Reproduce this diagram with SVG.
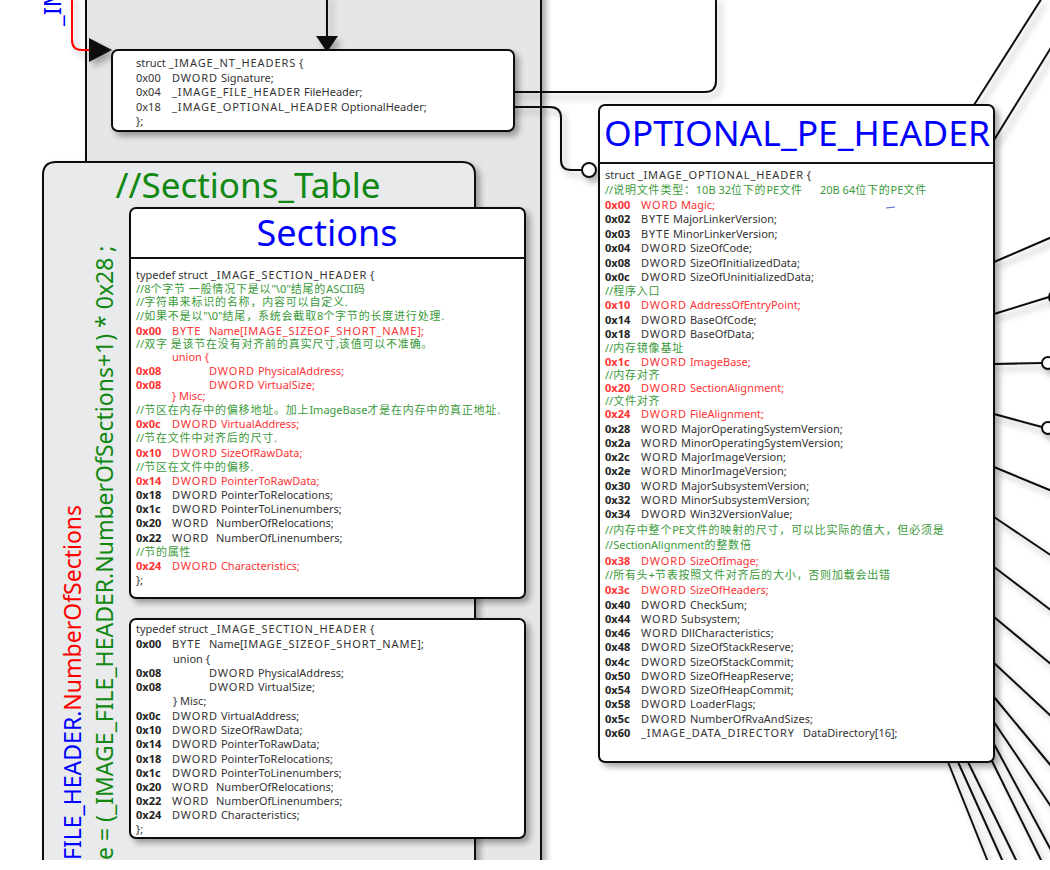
<svg xmlns="http://www.w3.org/2000/svg" width="1050" height="870" viewBox="0 0 1050 870">
<defs>
<style>
.t{font-family:"Noto Sans","Noto Sans CJK SC",sans-serif;font-size:11px;fill:#333}
.u{letter-spacing:0.9px}
.c{letter-spacing:0.8px}
.h{font-weight:bold;fill:#222}
.r{fill:#ff3333}
.rh{fill:#ff3333;font-weight:bold}
.g{fill:#3a9a3a}
.box{fill:#fff;stroke:#111;stroke-width:2}
.ln{fill:none;stroke:#111;stroke-width:2}
.ttl{font-family:"Noto Sans",sans-serif;fill:#0000ff}
</style>
<filter id="sh" x="-10%" y="-10%" width="130%" height="130%"><feDropShadow dx="4" dy="4" stdDeviation="3" flood-color="#000" flood-opacity="0.35"/></filter>
<filter id="lsh" x="-20%" y="-20%" width="140%" height="140%"><feDropShadow dx="4" dy="5" stdDeviation="3" flood-color="#000" flood-opacity="0.3"/></filter>
<clipPath id="clip"><rect x="0" y="0" width="1050" height="860"/></clipPath>
</defs>
<rect x="0" y="0" width="1050" height="870" fill="#fff"/>
<g clip-path="url(#clip)">
<g id="pe-container">
<rect x="86" y="-20" width="455" height="900" fill="#e4e6e7" stroke="#111" stroke-width="2" filter="url(#sh)"/>
</g>
<g id="dos-label">
<text class="ttl" transform="translate(61,26) rotate(-90)" font-size="24">_IM</text>
</g>
<g id="connectors" filter="url(#lsh)">
<path class="ln" d="M327,-5 V37"/>
<polygon points="316,36 338,36 327,52" fill="#111"/>
<path d="M72,-5 V40 Q72,50 82,50 H90" fill="none" stroke="#ff0000" stroke-width="2"/>
<polygon points="89,38 89,62 112,50" fill="#111"/>
<path class="ln" d="M378,92 H705 Q716,92 716,81 V-5"/>
<path class="ln" d="M430,107 H550 Q561,107 561,118 V160 Q561,170 571,170 H582"/>
<circle cx="589" cy="170" r="7" fill="#fff" stroke="#111" stroke-width="2"/>
<path class="ln" d="M974,105 L1042,-2"/>
<path class="ln" d="M994,140 L1052,46"/>
<path class="ln" d="M994,262 L1052,237"/>
<path class="ln" d="M994,314 L1049,297"/>
<circle cx="1055" cy="297" r="6" fill="#fff" stroke="#111" stroke-width="2"/>
<path class="ln" d="M994,364 L1042,363"/>
<circle cx="1048" cy="363" r="6" fill="#fff" stroke="#111" stroke-width="2"/>
<path class="ln" d="M994,414 L1042,427"/>
<circle cx="1048" cy="428" r="6" fill="#fff" stroke="#111" stroke-width="2"/>
<path class="ln" d="M994,467 L1052,491"/>
<path class="ln" d="M994,517 L1052,556"/>
<path class="ln" d="M994,567 L1052,611"/>
<path class="ln" d="M994,617 L1052,665"/>
<path class="ln" d="M994,663 L1052,717"/>
<path class="ln" d="M994,697 L1052,767"/>
<path class="ln" d="M994,722 L1052,808"/>
<path class="ln" d="M994,744 L1052,852"/>
<path class="ln" d="M990,757 L1042,862"/>
<path class="ln" d="M968,762 L1017,862"/>
<path class="ln" d="M958,762 L1003,862"/>
<path class="ln" d="M948,762 L988,862"/>
</g>
<g id="nt-headers">
<rect class="box" x="112" y="50" width="402" height="81" rx="6" filter="url(#sh)"/>
<text class="t" x="136" y="67">struct <tspan class="u">_IMAGE_NT_HEADERS</tspan> {</text>
<text class="t" y="82"><tspan x="136">0x00</tspan><tspan x="172"><tspan class="u">DWORD</tspan> Signature;</tspan></text>
<text class="t" y="96"><tspan x="136">0x04</tspan><tspan x="172"><tspan class="u">_IMAGE_FILE_HEADER</tspan> FileHeader;</tspan></text>
<text class="t" y="111"><tspan x="136">0x18</tspan><tspan x="172"><tspan class="u">_IMAGE_OPTIONAL_HEADER</tspan> OptionalHeader;</tspan></text>
<text class="t" x="136" y="125">};</text>
</g>
<g id="sections-table">
<path d="M43,880 V175 Q43,162 56,162 H462 Q475,162 475,175 V880 Z" fill="#e8eaeb" stroke="#111" stroke-width="2" filter="url(#sh)"/>
<text x="248" y="198" text-anchor="middle" font-family="Noto Sans, sans-serif" font-size="35" fill="#118811">//Sections_Table</text>
<text transform="translate(81,860) rotate(-90)" font-family="Noto Sans, sans-serif" font-size="23"><tspan fill="#0000ff">FILE_HEADER.</tspan><tspan fill="#ff0000">NumberOfSections</tspan></text>
<text transform="translate(113,860) rotate(-90)" font-family="Noto Sans, sans-serif" font-size="23" fill="#118811">e = (_IMAGE_FILE_HEADER.NumberOfSections+1) * 0x28 ;</text>
</g>
<g id="sections">
<rect class="box" x="130" y="208" width="395" height="390" rx="6" filter="url(#sh)"/>
<line x1="130" y1="258" x2="525" y2="258" stroke="#111" stroke-width="2"/>
<text class="ttl" x="327" y="246" text-anchor="middle" font-size="36">Sections</text>
<text class="t" x="136" y="279">typedef struct <tspan class="u">_IMAGE_SECTION_HEADER</tspan> {</text>
<text class="t g" x="136" y="293">//8<tspan class="c">个字节</tspan> <tspan class="c">一般情况下是以</tspan>"\0"<tspan class="c">结尾的</tspan>ASCII<tspan class="c">码</tspan></text>
<text class="t g" x="136" y="306">//<tspan class="c">字符串来标识的名称，内容可以自定义</tspan>.</text>
<text class="t g" x="136" y="320">//<tspan class="c">如果不是以</tspan>"\0"<tspan class="c">结尾，系统会截取</tspan>8<tspan class="c">个字节的长度进行处理</tspan>.</text>
<text class="t r" y="335"><tspan class="rh" x="136">0x00</tspan><tspan class="u" x="172">BYTE</tspan><tspan x="209">Name[<tspan class="u">IMAGE_SIZEOF_SHORT_NAME</tspan>];</tspan></text>
<text class="t g" x="136" y="348">//<tspan class="c">双字</tspan> <tspan class="c">是该节在没有对齐前的真实尺寸</tspan>,<tspan class="c">该值可以不准确。</tspan></text>
<text class="t r" x="172" y="361">union {</text>
<text class="t r" y="375"><tspan class="rh" x="136">0x08</tspan><tspan x="209"><tspan class="u">DWORD</tspan> PhysicalAddress;</tspan></text>
<text class="t r" y="389"><tspan class="rh" x="136">0x08</tspan><tspan x="209"><tspan class="u">DWORD</tspan> VirtualSize;</tspan></text>
<text class="t r" x="172" y="400">} Misc;</text>
<text class="t g" x="136" y="414">//<tspan class="c">节区在内存中的偏移地址。加上</tspan>ImageBase<tspan class="c">才是在内存中的真正地址</tspan>.</text>
<text class="t r" y="428"><tspan class="rh" x="136">0x0c</tspan><tspan x="172"><tspan class="u">DWORD</tspan> VirtualAddress;</tspan></text>
<text class="t g" x="136" y="442">//<tspan class="c">节在文件中对齐后的尺寸</tspan>.</text>
<text class="t r" y="457"><tspan class="rh" x="136">0x10</tspan><tspan x="172"><tspan class="u">DWORD</tspan> SizeOfRawData;</tspan></text>
<text class="t g" x="136" y="471">//<tspan class="c">节区在文件中的偏移</tspan>.</text>
<text class="t r" y="485"><tspan class="rh" x="136">0x14</tspan><tspan x="172"><tspan class="u">DWORD</tspan> PointerToRawData;</tspan></text>
<text class="t" y="499"><tspan class="h" x="136">0x18</tspan><tspan x="172"><tspan class="u">DWORD</tspan> PointerToRelocations;</tspan></text>
<text class="t" y="513"><tspan class="h" x="136">0x1c</tspan><tspan x="172"><tspan class="u">DWORD</tspan> PointerToLinenumbers;</tspan></text>
<text class="t" y="527"><tspan class="h" x="136">0x20</tspan><tspan class="u" x="172">WORD</tspan><tspan x="216">NumberOfRelocations;</tspan></text>
<text class="t" y="542"><tspan class="h" x="136">0x22</tspan><tspan class="u" x="172">WORD</tspan><tspan x="216">NumberOfLinenumbers;</tspan></text>
<text class="t g" x="136" y="556">//<tspan class="c">节的属性</tspan></text>
<text class="t r" y="570"><tspan class="rh" x="136">0x24</tspan><tspan x="172"><tspan class="u">DWORD</tspan> Characteristics;</tspan></text>
<text class="t" x="136" y="584">};</text>
</g>
<g id="section-header-2">
<rect class="box" x="130" y="619" width="395" height="219" rx="6" filter="url(#sh)"/>
<text class="t" x="136" y="633">typedef struct <tspan class="u">_IMAGE_SECTION_HEADER</tspan> {</text>
<text class="t" y="648"><tspan class="h" x="136">0x00</tspan><tspan class="u" x="172">BYTE</tspan><tspan x="209">Name[<tspan class="u">IMAGE_SIZEOF_SHORT_NAME</tspan>];</tspan></text>
<text class="t" x="173" y="663">union {</text>
<text class="t" y="677"><tspan class="h" x="136">0x08</tspan><tspan x="209"><tspan class="u">DWORD</tspan> PhysicalAddress;</tspan></text>
<text class="t" y="691"><tspan class="h" x="136">0x08</tspan><tspan x="209"><tspan class="u">DWORD</tspan> VirtualSize;</tspan></text>
<text class="t" x="173" y="705">} Misc;</text>
<text class="t" y="720"><tspan class="h" x="136">0x0c</tspan><tspan x="172"><tspan class="u">DWORD</tspan> VirtualAddress;</tspan></text>
<text class="t" y="734"><tspan class="h" x="136">0x10</tspan><tspan x="172"><tspan class="u">DWORD</tspan> SizeOfRawData;</tspan></text>
<text class="t" y="748"><tspan class="h" x="136">0x14</tspan><tspan x="172"><tspan class="u">DWORD</tspan> PointerToRawData;</tspan></text>
<text class="t" y="763"><tspan class="h" x="136">0x18</tspan><tspan x="172"><tspan class="u">DWORD</tspan> PointerToRelocations;</tspan></text>
<text class="t" y="777"><tspan class="h" x="136">0x1c</tspan><tspan x="172"><tspan class="u">DWORD</tspan> PointerToLinenumbers;</tspan></text>
<text class="t" y="791"><tspan class="h" x="136">0x20</tspan><tspan class="u" x="172">WORD</tspan><tspan x="216">NumberOfRelocations;</tspan></text>
<text class="t" y="805"><tspan class="h" x="136">0x22</tspan><tspan class="u" x="172">WORD</tspan><tspan x="216">NumberOfLinenumbers;</tspan></text>
<text class="t" y="819"><tspan class="h" x="136">0x24</tspan><tspan x="172"><tspan class="u">DWORD</tspan> Characteristics;</tspan></text>
<text class="t" x="136" y="833">};</text>
</g>
<g id="optional-pe-header">
<rect class="box" x="599" y="105" width="395" height="657" rx="6" filter="url(#sh)"/>
<line x1="599" y1="163" x2="994" y2="163" stroke="#111" stroke-width="2"/>
<text class="ttl" x="797" y="146" text-anchor="middle" font-size="35" textLength="386" lengthAdjust="spacingAndGlyphs">OPTIONAL_PE_HEADER</text>
<line x1="886" y1="208" x2="895" y2="207" stroke="#4a6cd4" stroke-width="1"/>
<text class="t" x="605" y="179">struct <tspan class="u">_IMAGE_OPTIONAL_HEADER</tspan> {</text>
<text class="t g" x="605" y="194">//<tspan class="c">说明文件类型：</tspan>10B 32<tspan class="c">位下的</tspan>PE<tspan class="c">文件</tspan><tspan x="820">20B 64</tspan><tspan class="c">位下的</tspan>PE<tspan class="c">文件</tspan></text>
<text class="t r" y="209"><tspan class="rh" x="605">0x00</tspan><tspan x="641"><tspan class="u">WORD</tspan> Magic;</tspan></text>
<text class="t" y="223"><tspan class="h" x="605">0x02</tspan><tspan x="641"><tspan class="u">BYTE</tspan> MajorLinkerVersion;</tspan></text>
<text class="t" y="238"><tspan class="h" x="605">0x03</tspan><tspan x="641"><tspan class="u">BYTE</tspan> MinorLinkerVersion;</tspan></text>
<text class="t" y="252"><tspan class="h" x="605">0x04</tspan><tspan x="641"><tspan class="u">DWORD</tspan> SizeOfCode;</tspan></text>
<text class="t" y="267"><tspan class="h" x="605">0x08</tspan><tspan x="641"><tspan class="u">DWORD</tspan> SizeOfInitializedData;</tspan></text>
<text class="t" y="281"><tspan class="h" x="605">0x0c</tspan><tspan x="641"><tspan class="u">DWORD</tspan> SizeOfUninitializedData;</tspan></text>
<text class="t g" x="605" y="295">//<tspan class="c">程序入口</tspan></text>
<text class="t r" y="309"><tspan class="rh" x="605">0x10</tspan><tspan x="641"><tspan class="u">DWORD</tspan> AddressOfEntryPoint;</tspan></text>
<text class="t" y="324"><tspan class="h" x="605">0x14</tspan><tspan x="641"><tspan class="u">DWORD</tspan> BaseOfCode;</tspan></text>
<text class="t" y="338"><tspan class="h" x="605">0x18</tspan><tspan x="641"><tspan class="u">DWORD</tspan> BaseOfData;</tspan></text>
<text class="t g" x="605" y="352">//<tspan class="c">内存镜像基址</tspan></text>
<text class="t r" y="366"><tspan class="rh" x="605">0x1c</tspan><tspan x="641"><tspan class="u">DWORD</tspan> ImageBase;</tspan></text>
<text class="t g" x="605" y="379">//<tspan class="c">内存对齐</tspan></text>
<text class="t r" y="392"><tspan class="rh" x="605">0x20</tspan><tspan x="641"><tspan class="u">DWORD</tspan> SectionAlignment;</tspan></text>
<text class="t g" x="605" y="405">//<tspan class="c">文件对齐</tspan></text>
<text class="t r" y="418"><tspan class="rh" x="605">0x24</tspan><tspan x="641"><tspan class="u">DWORD</tspan> FileAlignment;</tspan></text>
<text class="t" y="433"><tspan class="h" x="605">0x28</tspan><tspan x="641"><tspan class="u">WORD</tspan> MajorOperatingSystemVersion;</tspan></text>
<text class="t" y="447"><tspan class="h" x="605">0x2a</tspan><tspan x="641"><tspan class="u">WORD</tspan> MinorOperatingSystemVersion;</tspan></text>
<text class="t" y="461"><tspan class="h" x="605">0x2c</tspan><tspan x="641"><tspan class="u">WORD</tspan> MajorImageVersion;</tspan></text>
<text class="t" y="475"><tspan class="h" x="605">0x2e</tspan><tspan x="641"><tspan class="u">WORD</tspan> MinorImageVersion;</tspan></text>
<text class="t" y="490"><tspan class="h" x="605">0x30</tspan><tspan x="641"><tspan class="u">WORD</tspan> MajorSubsystemVersion;</tspan></text>
<text class="t" y="504"><tspan class="h" x="605">0x32</tspan><tspan x="641"><tspan class="u">WORD</tspan> MinorSubsystemVersion;</tspan></text>
<text class="t" y="518"><tspan class="h" x="605">0x34</tspan><tspan x="641"><tspan class="u">DWORD</tspan> Win32VersionValue;</tspan></text>
<text class="t g" x="605" y="534">//<tspan class="c">内存中整个</tspan>PE<tspan class="c">文件的映射的尺寸，可以比实际的值大，但必须是</tspan></text>
<text class="t g" x="605" y="549">//SectionAlignment<tspan class="c">的整数倍</tspan></text>
<text class="t r" y="565"><tspan class="rh" x="605">0x38</tspan><tspan x="641"><tspan class="u">DWORD</tspan> SizeOfImage;</tspan></text>
<text class="t g" x="605" y="579">//<tspan class="c">所有头</tspan>+<tspan class="c">节表按照文件对齐后的大小，否则加载会出错</tspan></text>
<text class="t r" y="594"><tspan class="rh" x="605">0x3c</tspan><tspan x="641"><tspan class="u">DWORD</tspan> SizeOfHeaders;</tspan></text>
<text class="t" y="609"><tspan class="h" x="605">0x40</tspan><tspan x="641"><tspan class="u">DWORD</tspan> CheckSum;</tspan></text>
<text class="t" y="623"><tspan class="h" x="605">0x44</tspan><tspan x="641"><tspan class="u">WORD</tspan> Subsystem;</tspan></text>
<text class="t" y="637"><tspan class="h" x="605">0x46</tspan><tspan x="641"><tspan class="u">WORD</tspan> DllCharacteristics;</tspan></text>
<text class="t" y="651"><tspan class="h" x="605">0x48</tspan><tspan x="641"><tspan class="u">DWORD</tspan> SizeOfStackReserve;</tspan></text>
<text class="t" y="666"><tspan class="h" x="605">0x4c</tspan><tspan x="641"><tspan class="u">DWORD</tspan> SizeOfStackCommit;</tspan></text>
<text class="t" y="680"><tspan class="h" x="605">0x50</tspan><tspan x="641"><tspan class="u">DWORD</tspan> SizeOfHeapReserve;</tspan></text>
<text class="t" y="694"><tspan class="h" x="605">0x54</tspan><tspan x="641"><tspan class="u">DWORD</tspan> SizeOfHeapCommit;</tspan></text>
<text class="t" y="708"><tspan class="h" x="605">0x58</tspan><tspan x="641"><tspan class="u">DWORD</tspan> LoaderFlags;</tspan></text>
<text class="t" y="723"><tspan class="h" x="605">0x5c</tspan><tspan x="641"><tspan class="u">DWORD</tspan> NumberOfRvaAndSizes;</tspan></text>
<text class="t" y="737"><tspan class="h" x="605">0x60</tspan><tspan class="u" x="641">_IMAGE_DATA_DIRECTORY</tspan><tspan x="803">DataDirectory[16];</tspan></text>
</g>
</g>
</svg>
